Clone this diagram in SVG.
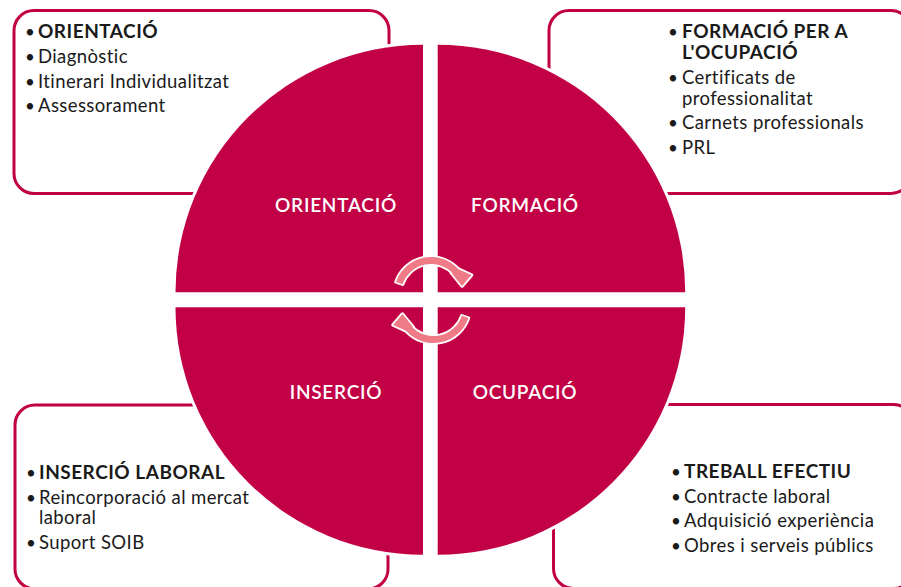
<svg xmlns="http://www.w3.org/2000/svg" width="901" height="587" viewBox="0 0 901 587">
<style>
.box{fill:#fff;stroke:#C20045;stroke-width:3}
.q{fill:#C20045;stroke:#fff;stroke-width:6;paint-order:stroke}
.arr{fill:#EF7B86;stroke:#fff;stroke-width:3.5;paint-order:stroke;stroke-linejoin:round}
.ql{font-family:Lato,"Noto Sans",sans-serif;font-size:19px;font-weight:600;letter-spacing:0.75px;fill:#fff;text-anchor:middle}
.t{font-family:Lato,"Noto Sans",sans-serif;font-size:18.5px;letter-spacing:0.4px;fill:#1a1a1a;font-variant-ligatures:none}
.h{font-weight:700;font-size:19px;letter-spacing:0.5px}
.b{text-anchor:middle;font-size:17px;letter-spacing:0}
</style>
<rect width="901" height="587" fill="#fff"/>
<g id="box-orientacio">
<rect class="box" x="14" y="10.5" width="375" height="183" rx="20"/>
<text class="t b" x="30" y="37.5">•</text><text class="t h" x="38" y="37.5">ORIENTACIÓ</text>
<text class="t b" x="30" y="63">•</text><text class="t" x="38" y="63">Diagnòstic</text>
<text class="t b" x="30" y="87.5">•</text><text class="t" x="38" y="87.5">Itinerari Individualitzat</text>
<text class="t b" x="30" y="111.5">•</text><text class="t" x="38" y="111.5">Assessorament</text>
</g>
<g id="box-formacio">
<rect class="box" x="549" y="10.5" width="362" height="183" rx="20"/>
<text class="t b" x="673" y="37.5">•</text><text class="t h" x="682" y="37.5">FORMACIÓ PER A</text>
<text class="t h" x="682" y="59">L'OCUPACIÓ</text>
<text class="t b" x="673" y="84">•</text><text class="t" x="682" y="84">Certificats de</text>
<text class="t" x="682" y="104.5">professionalitat</text>
<text class="t b" x="673" y="129">•</text><text class="t" x="682" y="129">Carnets professionals</text>
<text class="t b" x="673" y="154">•</text><text class="t" x="682" y="154">PRL</text>
</g>
<g id="box-insercio">
<rect class="box" x="15" y="405" width="373" height="184" rx="20"/>
<text class="t b" x="31" y="478.5">•</text><text class="t h" x="39" y="478.5">INSERCIÓ LABORAL</text>
<text class="t b" x="31" y="503.5">•</text><text class="t" x="39" y="503.5">Reincorporació al mercat</text>
<text class="t" x="39" y="523.5">laboral</text>
<text class="t b" x="31" y="548.5">•</text><text class="t" x="39" y="548.5">Suport SOIB</text>
</g>
<g id="box-treball">
<rect class="box" x="553.5" y="404.5" width="360" height="184" rx="20"/>
<text class="t b" x="676" y="477.7">•</text><text class="t h" x="684" y="477.7">TREBALL EFECTIU</text>
<text class="t b" x="676" y="502.7">•</text><text class="t" x="684" y="502.7">Contracte laboral</text>
<text class="t b" x="676" y="526.7">•</text><text class="t" x="684" y="526.7">Adquisició experiència</text>
<text class="t b" x="676" y="551.7">•</text><text class="t" x="684" y="551.7">Obres i serveis públics</text>
</g>
<g id="q-orientacio">
<path class="q" d="M423 292.3H175.5A247.5 247.5 0 0 1 423 44.8Z"/>
<text class="ql" x="336" y="211.7">ORIENTACIÓ</text>
</g>
<g id="q-formacio">
<path class="q" d="M437.7 292.3V44.8A247.5 247.5 0 0 1 685.2 292.3Z"/>
<text class="ql" x="525" y="211.7">FORMACIÓ</text>
</g>
<g id="q-ocupacio">
<path class="q" d="M437.7 307.3H685.2A247.5 247.5 0 0 1 437.7 554.8Z"/>
<text class="ql" x="525" y="398.5">OCUPACIÓ</text>
</g>
<g id="q-insercio">
<path class="q" d="M423 307.3V554.8A247.5 247.5 0 0 1 175.5 307.3Z"/>
<text class="ql" x="336" y="398.5">INSERCIÓ</text>
</g>
<g id="connectors">
<path id="arrow-top" class="arr" d="M396 281.95A37 37 0 0 1 458.5 269.2L471.5 275L462 286L451 272.5L453.3 273.9A30 30 0 0 0 402.6 284.2Z"/>
<path id="arrow-bottom" class="arr" transform="rotate(180 432.25 300)" d="M396 281.95A37 37 0 0 1 458.5 269.2L471.5 275L462 286L451 272.5L453.3 273.9A30 30 0 0 0 402.6 284.2Z"/>
</g>
</svg>
